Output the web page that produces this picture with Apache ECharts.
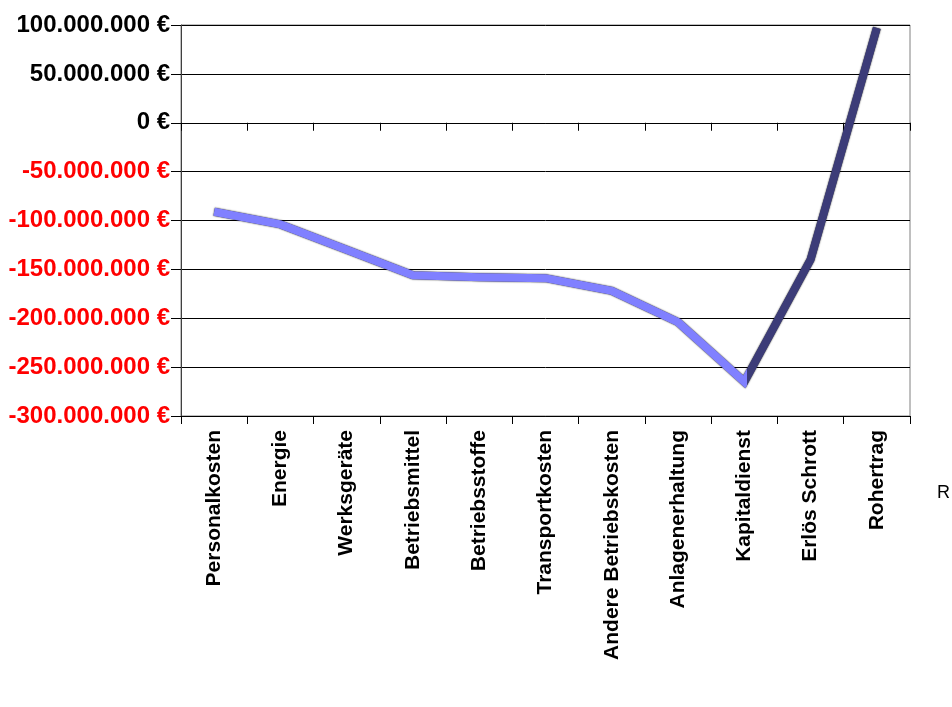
<!DOCTYPE html>
<html>
<head>
<meta charset="utf-8">
<script src="https://cdn.jsdelivr.net/npm/echarts@6/dist/echarts.min.js"></script>
<style>
  html, body { margin: 0; padding: 0; background: #fff; }
  #chart { width: 952px; height: 707px; }
</style>
</head>
<body>
<div id="chart"></div>
<script>
// ---- data ----
const categories = [
  'Personalkosten', 'Energie', 'Werksgeräte', 'Betriebsmittel', 'Betriebsstoffe',
  'Transportkosten', 'Andere Betriebskosten', 'Anlagenerhaltung', 'Kapitaldienst',
  'Erlös Schrott', 'Rohertrag'
];
const values = [
  -91000000, -104000000, -130000000, -156000000, -158000000,
  -159000000, -172000000, -204000000, -265000000, -140000000, 97000000
];
const seriesName = 'R';
const axisMin = -300000000;
const axisMax = 100000000;
const axisStep = 50000000;

function euro(v) {
  const s = Math.abs(v).toString().replace(/\B(?=(\d{3})+(?!\d))/g, '.');
  return (v < 0 ? '-' : '') + s + ' €';
}

const FONT = "'Liberation Sans', Arial, sans-serif";
// colour break at the lowest point (light ribbon before it, dark edge after it)
const minIdx = values.indexOf(Math.min.apply(null, values));
const breakAt = minIdx / (values.length - 1);

const chart = echarts.init(document.getElementById('chart'));
chart.setOption({
  animation: false,
  backgroundColor: '#ffffff',
  grid: {
    left: 181, right: 42, top: 25, bottom: 291,
    show: true, borderColor: '#808080', borderWidth: 1
  },
  graphic: [{
    type: 'text', left: 937, top: 484,
    style: { text: seriesName, font: '18px ' + FONT, fill: '#000' }
  }],
  xAxis: [{
    type: 'category',
    data: categories,
    position: 'bottom',
    boundaryGap: true,
    axisLine: { onZero: false, lineStyle: { color: '#000', width: 1 } },
    axisTick: { show: true, interval: 0, length: 8, lineStyle: { color: '#000' } },
    axisLabel: {
      rotate: 90, margin: 14, interval: 0,
      fontFamily: FONT, fontWeight: 'bold', fontSize: 21, color: '#000'
    },
    splitLine: { show: false }
  }, {
    type: 'category',
    data: categories,
    position: 'bottom',
    boundaryGap: true,
    axisLine: { onZero: true, lineStyle: { color: '#000', width: 1 } },
    axisTick: { show: true, interval: 0, length: 8, lineStyle: { color: '#000' } },
    axisLabel: { show: false, interval: 0 },
    splitLine: { show: false }
  }],
  yAxis: {
    type: 'value',
    min: axisMin, max: axisMax, interval: axisStep,
    axisLine: { show: true, lineStyle: { color: '#404040' } },
    axisTick: { show: true, length: 10, lineStyle: { color: '#000' } },
    axisLabel: {
      margin: 11,
      fontFamily: FONT, fontWeight: 'bold', fontSize: 24,
      formatter: euro,
      color: function (v) { return Number(v) < 0 ? '#ff0000' : '#000000'; }
    },
    splitLine: { show: true, lineStyle: { color: '#000', width: 1 } }
  },
  series: [{
    name: seriesName,
    type: 'line',
    xAxisIndex: 0,
    data: values,
    showSymbol: false,
    symbol: 'none',
    lineStyle: {
      width: 8, join: 'miter', cap: 'butt',
      color: new echarts.graphic.LinearGradient(0, 0, 1, 0, [
        { offset: 0, color: '#8080ff' },
        { offset: breakAt, color: '#8080ff' },
        { offset: breakAt, color: '#3c3c78' },
        { offset: 1, color: '#3c3c78' }
      ]),
      shadowColor: '#000', shadowBlur: 1.5
    }
  }]
});
</script>
</body>
</html>
